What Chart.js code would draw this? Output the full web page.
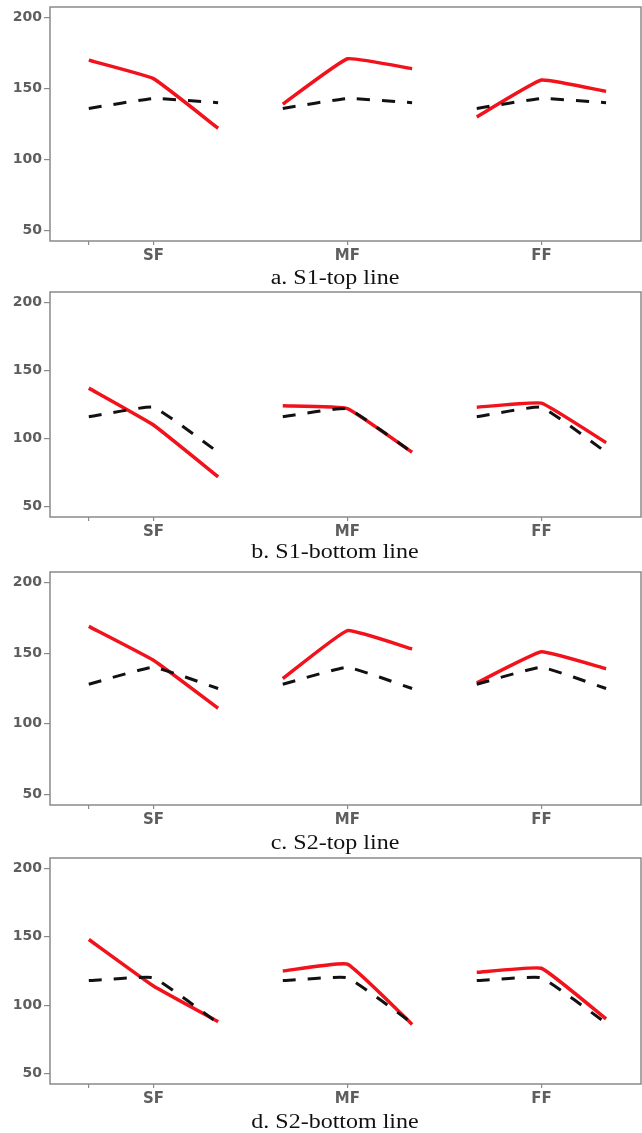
<!DOCTYPE html>
<html>
<head>
<meta charset="utf-8">
<script src="https://cdn.jsdelivr.net/npm/chart.js@4.4.0/dist/chart.umd.min.js"></script>
<style>
  body { margin: 0; background: #fff; width: 642px; height: 1133px; position: relative; overflow: hidden; }
  .panel { position: absolute; left: 0; width: 642px; }
  .cap { position: absolute; left: 35px; width: 600px; text-align: center; line-height: 20px;
         font-family: "Liberation Serif", "Times New Roman", serif; font-size: 20px; color: #111;
         transform: scaleX(1.2); transform-origin: center; }
</style>
</head>
<body>
<script>
// x positions of the points (3 per group) and the group labels
const pointX = [1, 2, 3, 4, 5, 6, 7, 8, 9];
const categories = ['SF', 'MF', 'FF'];
const categoryX = [2, 5, 8];
const yTicks = [50, 100, 150, 200];

const captions = ['a. S1-top line', 'b. S1-bottom line', 'c. S2-top line', 'd. S2-bottom line'];

// red solid lines
const s1TopRed    = [170, 157, 122, 139, 171, 164, 130, 156, 148];
const s1BottomRed = [137, 110, 72, 124, 122, 90, 123, 126, 97];
const s2TopRed    = [169, 145, 111, 132, 166, 153, 129, 151, 139];
const s2BottomRed = [148, 114, 88, 125, 130, 86, 124, 127, 90];

// black dashed lines
const s1TopRef    = [136, 143, 140, 136, 143, 140, 136, 143, 140];
const s1BottomRef = [116, 123, 90, 116, 122, 90, 116, 123, 90];
const s2TopRef    = [128, 140, 125, 128, 140, 125, 128, 140, 125];
const s2BottomRef = [118, 120, 87, 118, 120, 87, 118, 120, 87];

const redSeries = [s1TopRed, s1BottomRed, s2TopRed, s2BottomRed];
const refSeries = [s1TopRef, s1BottomRef, s2TopRef, s2BottomRef];

// layout of each panel: plot box top, plot box bottom, caption centre
const boxes = [[7, 241, 277], [292, 517, 551], [572, 805, 842], [858, 1084, 1121]];

const PAD_TOP = 12;
const XAXIS_H = 30;
const GREY = '#8a8a8a';
const LABEL = '#5e5e5e';
const yFont = { family: 'DejaVu Sans', size: 14, weight: 'bold' };
const xFont = { family: 'DejaVu Sans', size: 15, weight: 'bold' };

// grey frame round the plot area
const frame = {
    id: 'frame',
    afterDatasetsDraw(chart) {
        const { ctx, chartArea: a } = chart;
        ctx.save();
        ctx.strokeStyle = GREY;
        ctx.lineWidth = 1.5;
        ctx.strokeRect(a.left, a.top, a.right - a.left, a.bottom - a.top);
        ctx.restore();
    }
};

function groupDatasets(values, style) {
    const sets = [];
    for (let g = 0; g < categories.length; g++) {
        const data = [];
        for (let i = g * 3; i < g * 3 + 3; i++) data.push({ x: pointX[i], y: values[i] });
        sets.push(Object.assign({ data: data, pointRadius: 0, tension: 0.1, fill: false }, style));
    }
    return sets;
}

boxes.forEach((b, p) => {
    const [top, bottom, capY] = b;
    const h = bottom - top + PAD_TOP + XAXIS_H;

    const div = document.createElement('div');
    div.className = 'panel';
    div.style.top = (top - PAD_TOP) + 'px';
    div.style.height = h + 'px';
    const canvas = document.createElement('canvas');
    canvas.width = 642;
    canvas.height = h;
    div.appendChild(canvas);
    document.body.appendChild(div);

    const cap = document.createElement('div');
    cap.className = 'cap';
    cap.style.top = (capY - 10) + 'px';
    cap.textContent = captions[p];
    document.body.appendChild(cap);

    const datasets = []
        .concat(groupDatasets(refSeries[p], { borderColor: '#111', borderWidth: 3, borderDash: [13, 12] }))
        .concat(groupDatasets(redSeries[p], { borderColor: '#f2121c', borderWidth: 3.5 }));

    new Chart(canvas, {
        type: 'line',
        data: { datasets: datasets },
        plugins: [frame],
        options: {
            responsive: false,
            devicePixelRatio: 1,
            animation: false,
            layout: { padding: { top: PAD_TOP, left: 0, right: 1, bottom: 0 } },
            plugins: { legend: { display: false }, tooltip: { enabled: false } },
            scales: {
                x: {
                    type: 'linear',
                    min: 0.4,
                    max: 9.54,
                    border: { display: false },
                    grid: { drawOnChartArea: false, drawTicks: true, tickLength: 4, tickColor: GREY, lineWidth: 1.2 },
                    afterBuildTicks: s => { s.ticks = [1].concat(categoryX).map(v => ({ value: v })); },
                    afterFit: s => { s.height = XAXIS_H; },
                    ticks: {
                        autoSkip: false,
                        maxRotation: 0,
                        padding: 2,
                        color: LABEL,
                        font: xFont,
                        callback: v => {
                            const i = categoryX.indexOf(v);
                            return i >= 0 ? categories[i] : '';
                        }
                    }
                },
                y: {
                    min: 42.5,
                    max: 207.5,
                    border: { display: false },
                    grid: { drawOnChartArea: false, drawTicks: true, tickLength: 6, tickColor: GREY, lineWidth: 1.2 },
                    afterBuildTicks: s => { s.ticks = yTicks.map(v => ({ value: v })); },
                    afterFit: s => { s.width = 50; },
                    ticks: { padding: 2, color: LABEL, font: yFont }
                }
            }
        }
    });
});
</script>
</body>
</html>
